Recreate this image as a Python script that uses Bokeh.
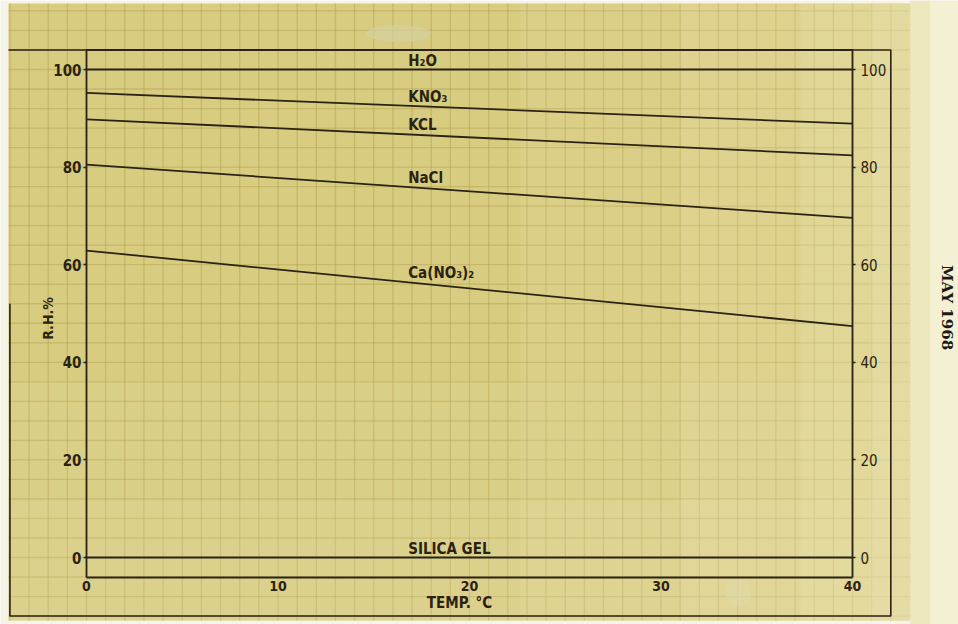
import numpy as np
from bokeh.plotting import figure
from bokeh.models import LinearAxis, FixedTicker, Range1d, Label
from bokeh.core.properties import value
from bokeh.embed import file_html
from bokeh.resources import INLINE

# Equilibrium relative humidity over saturated salt solutions, 0-40 °C
temp_c = [0, 40]
rh_h2o = [100, 100]
rh_kno3 = [95.2, 88.9]
rh_kcl = [89.8, 82.4]
rh_nacl = [80.5, 69.6]
rh_ca_no3_2 = [62.9, 47.4]
rh_silica_gel = [0, 0]
series_names = ["H₂O", "KNO₃", "KCL", "NaCl", "Ca(NO₃)₂", "SILICA GEL"]
rh_ticks = [0, 20, 40, 60, 80, 100]
temp_ticks = [0, 10, 20, 30, 40]

series = [rh_h2o, rh_kno3, rh_kcl, rh_nacl, rh_ca_no3_2, rh_silica_gel]

# ---- page geometry (pixels -> data) ----
W, H = 958, 624
X0_PX, XS = 86.0, 19.15      # pixel of 0 °C, pixels per °C
Y0_PX, YS = 557.0, 4.88      # pixel of 0 % RH, pixels per % RH


def dx(px):
    return (px - X0_PX) / XS


def dy(py):
    return (Y0_PX - py) / YS


INK = "#2a2313"
PAPER = "#d8cc80"
MARGIN = "#f6f4e6"
LETTERING = "DejaVu Sans Condensed"

p = figure(width=W, height=H, output_backend="svg", toolbar_location=None,
           x_range=Range1d(dx(0), dx(W)), y_range=Range1d(dy(H), dy(0)),
           x_axis_type=None, y_axis_type=None, min_border=0,
           outline_line_color=None, background_fill_color=MARGIN,
           border_fill_color=MARGIN)
p.grid.visible = False

# ---- graph paper ----
pl, pr, pb, pt = dx(8), dx(910), dy(620), dy(3)
p.quad(left=pl, right=pr, bottom=pb, top=pt, fill_color=PAPER, line_color=None)

gx = np.arange(-4, 43, 1.0)
p.segment(x0=gx, y0=pb, x1=gx, y1=pt, line_color="#b5a150", line_alpha=0.5,
          line_width=1.3)
gy = np.arange(-12, 116, 4.0)
p.segment(x0=pl, y0=gy, x1=pr, y1=gy, line_color="#b5a150", line_alpha=0.5,
          line_width=1.3)

# paper fades lighter towards the right and bottom
for left_px, a in [(520, 0.10), (680, 0.12), (800, 0.14), (870, 0.18)]:
    p.quad(left=dx(left_px), right=pr, bottom=pb, top=pt,
           fill_color="#f4eec8", fill_alpha=a, line_color=None)
for top_px, a in [(380, 0.08), (500, 0.10)]:
    p.quad(left=pl, right=pr, bottom=pb, top=dy(top_px),
           fill_color="#f4eec8", fill_alpha=a, line_color=None)

# right edge of the sheet
p.quad(left=pr, right=dx(930), bottom=dy(H), top=dy(0),
       fill_color="#eee8bf", line_color=None)
p.quad(left=dx(930), right=dx(W), bottom=dy(H), top=dy(0),
       fill_color="#f3f0d4", line_color=None)

# faint marks on the sheet
p.ellipse(x=dx(398), y=dy(33), width=65 / XS, height=17 / YS,
          fill_color="#d6d0a0", fill_alpha=0.7, line_color=None)
p.ellipse(x=dx(738), y=dy(592), width=26 / XS, height=26 / YS,
          fill_color="#e0d9a8", fill_alpha=0.6, line_color=None)

# ---- frame ----
p.line(x=[dx(8), 42, 42, -4, -4], y=[104, 104, -12, -12, 52],
       line_color=INK, line_width=1.6)
p.line(x=[0, 40], y=[104, 104], line_color=INK, line_width=1.8)

# ---- data lines ----
for vals in series:
    p.line(x=temp_c, y=vals, line_color=INK, line_width=1.8)

label_x = 16.8
label_y = [float(np.interp(label_x, temp_c, v)) for v in series]
p.text(x=[label_x] * len(series), y=label_y, text=series_names,
       text_font=value(LETTERING), text_font_style="bold",
       text_font_size="15px", text_color=INK, text_baseline="alphabetic",
       text_align="left", y_offset=-9)

# ---- axes ----
common = dict(axis_line_color=INK, axis_line_width=1.8, major_tick_line_color=INK,
              major_tick_line_width=1.5, minor_tick_out=0, minor_tick_in=0,
              major_tick_in=0, major_label_text_color=INK,
              major_label_text_font=LETTERING)

left_ax = LinearAxis(fixed_location=0, bounds=(-4, 104),
                     ticker=FixedTicker(ticks=rh_ticks), major_tick_out=3,
                     major_label_standoff=2, major_label_text_font_size="15px",
                     major_label_text_font_style="bold", **common)
p.add_layout(left_ax, "left")

right_ax = LinearAxis(fixed_location=40, bounds=(-4, 104),
                      ticker=FixedTicker(ticks=rh_ticks), major_tick_out=3,
                      major_label_standoff=5, major_label_text_font_size="15px",
                      **common)
p.add_layout(right_ax, "right")

bottom_ax = LinearAxis(fixed_location=-4, bounds=(0, 40),
                       ticker=FixedTicker(ticks=temp_ticks), major_tick_out=0,
                       major_label_standoff=4, major_label_text_font_size="14px",
                       major_label_text_font_style="bold", **common)
p.add_layout(bottom_ax, "below")

# ---- titles ----
p.add_layout(Label(x=dx(47), y=dy(318), text="R.H.%", angle=np.pi / 2,
                   text_align="center", text_baseline="middle",
                   text_font=LETTERING, text_font_style="bold",
                   text_font_size="14px", text_color=INK))
p.add_layout(Label(x=dx(459), y=dy(602), text="TEMP. °C",
                   text_align="center", text_baseline="middle",
                   text_font=LETTERING, text_font_style="bold",
                   text_font_size="15px", text_color=INK))
p.add_layout(Label(x=dx(946), y=dy(307), text="MAY 1968", angle=-np.pi / 2,
                   text_align="center", text_baseline="middle",
                   text_font="DejaVu Serif", text_font_style="bold",
                   text_font_size="15px", text_color="#1c1a14"))

open("out.html", "w").write(file_html(p, INLINE))
